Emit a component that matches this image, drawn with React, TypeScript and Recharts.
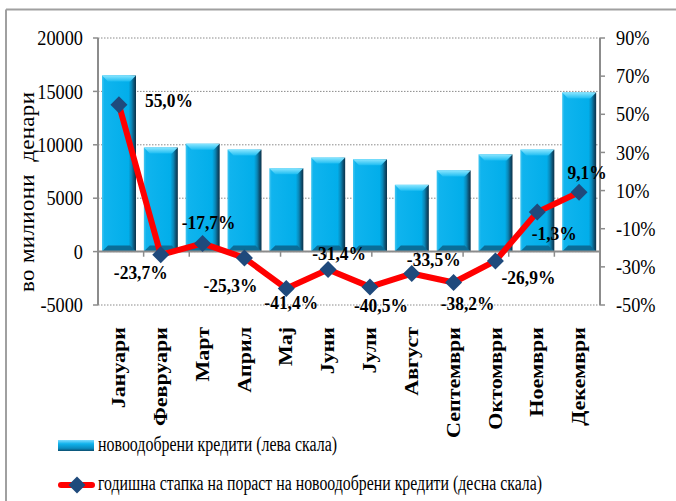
import React from 'react';
import { ComposedChart, Bar, Line, XAxis, YAxis, CartesianGrid, ReferenceLine, LabelList } from 'recharts';

const months = ['Јануари', 'Февруари', 'Март', 'Април', 'Мај', 'Јуни', 'Јули', 'Август', 'Септември', 'Октомври', 'Ноември', 'Декември'];
const credits = [16500, 9750, 10100, 9550, 7800, 8800, 8650, 6250, 7600, 9100, 9550, 14900];
const growth = [55.0, -23.7, -17.7, -25.3, -41.4, -31.4, -40.5, -33.5, -38.2, -26.9, -1.3, 9.1];
const leftTicks = [-5000, 0, 5000, 10000, 15000, 20000];
const rightTicks = [-50, -30, -10, 10, 30, 50, 70, 90];
const boundaries = [1, 2, 3, 4, 5, 6, 7, 8, 9, 10, 11];
const legendLabels = ['новоодобрени кредити (лева скала)', 'годишна стапка на пораст на новоодобрени кредити (десна скала)'];
const yAxisTitle = 'во милиони  денари';

// label placement (dx, dy relative to point) - styling only
const labelOffsets = [[50, 2], [-20, 24], [6, -14], [-14, 34], [5, 20], [11, -10], [11, 25], [22, -8], [14, 28], [33, 23], [17, 28], [8, -13]];

const data = months.map((m, i) => ({ month: m, credits: credits[i], growth: growth[i] }));

const FONT = '"Liberation Serif", "Times New Roman", serif';

const fmtPct = (v: number) => v.toFixed(1).replace('.', ',') + '%';

const BarShape = (props: any) => {
  const { x, y, width, height, index } = props;
  if (width == null || height == null) return null;
  const h = Math.abs(height);
  const top = height < 0 ? y + height : y;
  const id = `bg${index}`;
  const tid = `bt${index}`;
  const b = Math.min(6, h / 3);
  return (
    <g>
      <defs>
        <linearGradient id={id} x1="0" y1="0" x2="1" y2="0">
          <stop offset="0" stopColor="#45c6f0" />
          <stop offset="0.07" stopColor="#10b4ee" />
          <stop offset="0.78" stopColor="#02aeea" />
          <stop offset="0.87" stopColor="#0a86b6" />
          <stop offset="0.94" stopColor="#0d5274" />
          <stop offset="1" stopColor="#0a3149" />
        </linearGradient>
        <linearGradient id={tid} x1="0" y1="0" x2="0" y2="1">
          <stop offset="0" stopColor="#8be6ff" />
          <stop offset="1" stopColor="#1dbdf2" />
        </linearGradient>
      </defs>
      <rect x={x} y={top} width={width} height={h} fill={`url(#${id})`} />
      <polygon points={`${x},${top} ${x + width},${top} ${x + width - b},${top + b} ${x + b},${top + b}`} fill={`url(#${tid})`} />
      <polygon points={`${x + b},${top + h - b} ${x + width - b},${top + h - b} ${x + width},${top + h} ${x},${top + h}`} fill="#0a6d98" />
    </g>
  );
};

const Diamond = (props: any) => {
  const { cx, cy, index } = props;
  if (cx == null || cy == null) return null;
  const r = 8.5;
  return <polygon key={`d${index}`} points={`${cx},${cy - r} ${cx + r},${cy} ${cx},${cy + r} ${cx - r},${cy}`} fill="#1f4a7c" />;
};

const GrowthLabel = (props: any) => {
  const { x, y, value } = props;
  let idx = props.index;
  if (idx == null) idx = growth.indexOf(value);
  const off = labelOffsets[idx] || [0, -12];
  return (
    <text
      transform={`translate(${x + off[0]},${y + off[1]}) scale(0.92,1)`}
      textAnchor="middle"
      fontFamily={FONT}
      fontWeight="bold"
      fontSize={19}
      fill="#000"
    >
      {fmtPct(value)}
    </text>
  );
};

const MonthTick = (props: any) => {
  const { x, y, payload } = props;
  return (
    <g transform={`translate(${x},${y + 22}) rotate(-90) scale(1,0.88)`}>
      <text x={0} y={7} textAnchor="end" fontFamily={FONT} fontWeight="bold" fontSize={22} fill="#000">
        {payload.value}
      </text>
    </g>
  );
};

const LeftTick = (props: any) => {
  const { x, y, payload } = props;
  return (
    <text transform={`translate(${x},${y}) scale(0.87,1)`} dy="0.34em" textAnchor="end" fontFamily={FONT} fontSize={21} fill="#000">
      {payload.value}
    </text>
  );
};

const RightTick = (props: any) => {
  const { x, y, payload } = props;
  return (
    <text transform={`translate(${x},${y}) scale(0.87,1)`} dy="0.34em" textAnchor="start" fontFamily={FONT} fontSize={21} fill="#000">
      {payload.value + '%'}
    </text>
  );
};

export default function App() {
  return (
    <div style={{ position: 'absolute', left: 0, top: 0, width: 676, height: 501, background: '#fff' }}>
      <ComposedChart width={676} height={501} data={data} margin={{ top: 38, right: 0, bottom: 0, left: 0 }}>
        <CartesianGrid xAxisId="cat" yAxisId="left" vertical={false} stroke="#8a8a8a" strokeDasharray="1.5 1.5" />
        <XAxis xAxisId="cat" dataKey="month" height={196} interval={0} axisLine={false} tickLine={false} tickSize={0} tickMargin={0} tick={<MonthTick />} />
        <XAxis xAxisId="num" type="number" domain={[0, 12]} allowDataOverflow hide />
        <YAxis
          yAxisId="left"
          width={98}
          domain={[-5000, 20000]}
          ticks={leftTicks}
          interval={0}
          allowDataOverflow
          axisLine={{ stroke: '#8c8c8c', strokeWidth: 2 }}
          tickLine={{ stroke: '#8c8c8c', strokeWidth: 1.5 }}
          tickSize={5}
          tickMargin={10}
          tick={<LeftTick />}
        />
        <YAxis
          yAxisId="right"
          orientation="right"
          width={76}
          domain={[-50, 90]}
          ticks={rightTicks}
          interval={0}
          allowDataOverflow
          axisLine={{ stroke: '#8c8c8c', strokeWidth: 2 }}
          tickLine={{ stroke: '#8c8c8c', strokeWidth: 1.5 }}
          tickSize={5}
          tickMargin={11}
          tick={<RightTick />}
        />
        <Bar xAxisId="cat" yAxisId="left" dataKey="credits" barSize={34} shape={<BarShape />} isAnimationActive={false} />
        <ReferenceLine xAxisId="cat" yAxisId="left" y={0} stroke="#8c8c8c" strokeWidth={2} />
        {boundaries.map((b) => (
          <ReferenceLine
            key={b}
            xAxisId="num"
            yAxisId="left"
            segment={[{ x: b, y: 0 }, { x: b, y: -480 }]}
            stroke="#8c8c8c"
            strokeWidth={1.5}
          />
        ))}
        <Line
          xAxisId="cat"
          yAxisId="right"
          dataKey="growth"
          stroke="#ff0000"
          strokeWidth={6}
          strokeLinejoin="round"
          dot={<Diamond />}
          activeDot={false}
          isAnimationActive={false}
        >
          <LabelList dataKey="growth" content={<GrowthLabel />} />
        </Line>
      </ComposedChart>
      <svg width={676} height={501} style={{ position: 'absolute', left: 0, top: 0, pointerEvents: 'none' }}>
        <line x1={6} y1={9.5} x2={676} y2={9.5} stroke="#a0a0a0" strokeWidth={2} />
        <line x1={6} y1={9.5} x2={6} y2={501} stroke="#a0a0a0" strokeWidth={2} />
        <g transform="translate(33.5,192) rotate(-90) scale(1,0.92)">
          <text x={0} y={0} textAnchor="middle" fontFamily={FONT} fontSize={23} fill="#000" textLength={200} lengthAdjust="spacing" style={{ whiteSpace: 'pre' }}>
            {yAxisTitle}
          </text>
        </g>
        <defs>
          <linearGradient id="legBar" x1="0" y1="0" x2="0" y2="1">
            <stop offset="0" stopColor="#7fdcff" />
            <stop offset="0.35" stopColor="#10b2ec" />
            <stop offset="0.75" stopColor="#0a8cc0" />
            <stop offset="1" stopColor="#0b4e70" />
          </linearGradient>
        </defs>
        <rect x={58} y={440} width={36} height={11} fill="url(#legBar)" />
        <text x={98} y={451} fontFamily={FONT} fontSize={20} fill="#000" textLength={239} lengthAdjust="spacingAndGlyphs">
          {legendLabels[0]}
        </text>
        <line x1={61} y1={485} x2={92} y2={485} stroke="#ff0000" strokeWidth={6} strokeLinecap="round" />
        <polygon points="77,476.5 85.5,485 77,493.5 68.5,485" fill="#1f4a7c" />
        <text x={98} y={490} fontFamily={FONT} fontSize={20} fill="#000" textLength={444} lengthAdjust="spacingAndGlyphs">
          {legendLabels[1]}
        </text>
      </svg>
    </div>
  );
}
